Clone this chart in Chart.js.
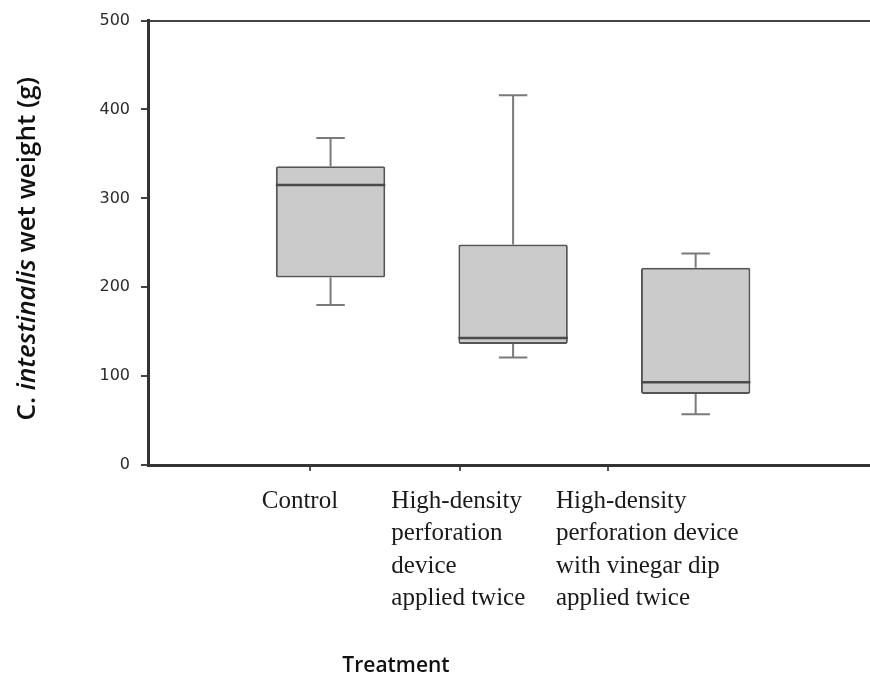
<!DOCTYPE html>
<html lang="en">
<head>
    <meta charset="UTF-8">
    <title>C. intestinalis wet weight by treatment</title>
    <script src="https://cdn.jsdelivr.net/npm/chart.js"></script>
    <style>
        body {
            margin: 0;
            background: #ffffff;
        }
        .chart-container {
            width: 870px;
            height: 676px;
        }
    </style>
</head>
<body>
    <div class="chart-container">
        <canvas id="boxChart"></canvas>
    </div>

    <script>
        // Treatment groups, one box each (x = 1, 2, 3)
        const treatments = [
            ['Control'],
            ['High-density', 'perforation', 'device', 'applied twice'],
            ['High-density', 'perforation device', 'with vinegar dip', 'applied twice']
        ];
        const groupX = [1, 2, 3];

        // Box plot values, wet weight (g)
        const minVals = [180, 121, 57];
        const q1Vals = [211, 136, 80];
        const medianVals = [315, 143, 93];
        const q3Vals = [336, 248, 222];
        const maxVals = [368, 416, 238];

        const yTicks = [0, 100, 200, 300, 400, 500];

        // where the category tick marks and the label blocks sit on the x scale
        const tickMarkAt = [0.89, 1.71, 2.52];
        const labelAt = [0.623, 1.333, 2.235];
        const xMax = 3.955;

        // whiskers, caps, medians and the axis titles
        const boxExtras = {
            id: 'boxExtras',
            beforeDatasetsDraw(chart) {
                const { ctx, scales: { y } } = chart;
                const meta = chart.getDatasetMeta(0);
                ctx.save();
                ctx.strokeStyle = '#7a7a7a';
                ctx.lineWidth = 2;
                meta.data.forEach((bar, i) => {
                    const cx = bar.x;
                    const half = bar.width * 0.13;
                    const yMin = y.getPixelForValue(minVals[i]);
                    const yMax = y.getPixelForValue(maxVals[i]);
                    const yQ1 = y.getPixelForValue(q1Vals[i]);
                    const yQ3 = y.getPixelForValue(q3Vals[i]);
                    ctx.beginPath();
                    ctx.moveTo(cx, yQ1);
                    ctx.lineTo(cx, yMin);
                    ctx.moveTo(cx - half, yMin);
                    ctx.lineTo(cx + half, yMin);
                    ctx.moveTo(cx, yQ3);
                    ctx.lineTo(cx, yMax);
                    ctx.moveTo(cx - half, yMax);
                    ctx.lineTo(cx + half, yMax);
                    ctx.stroke();
                });
                ctx.restore();
            },
            afterDatasetsDraw(chart) {
                const { ctx, scales: { y } } = chart;
                const meta = chart.getDatasetMeta(0);
                ctx.save();
                ctx.strokeStyle = '#4a4a4a';
                ctx.lineWidth = 2.5;
                meta.data.forEach((bar, i) => {
                    const yMed = y.getPixelForValue(medianVals[i]);
                    ctx.beginPath();
                    ctx.moveTo(bar.x - bar.width / 2, yMed);
                    ctx.lineTo(bar.x + bar.width / 2, yMed);
                    ctx.stroke();
                });
                ctx.restore();
            },
            afterDraw(chart) {
                const { ctx, chartArea } = chart;
                ctx.save();
                ctx.fillStyle = '#111';
                ctx.textBaseline = 'middle';

                // y title, rotated, genus name in italics
                const parts = [
                    { text: 'C. ', font: '600 26px "Open Sans"' },
                    { text: 'intestinalis', font: 'italic 600 26px "Open Sans"' },
                    { text: ' wet weight (g)', font: '600 26px "Open Sans"' }
                ];
                let total = 0;
                parts.forEach(p => {
                    ctx.font = p.font;
                    p.w = ctx.measureText(p.text).width;
                    total += p.w;
                });
                ctx.translate(28, (chartArea.top + chartArea.bottom) / 2 + 6);
                ctx.rotate(-Math.PI / 2);
                ctx.textAlign = 'left';
                let pos = -total / 2;
                parts.forEach(p => {
                    ctx.font = p.font;
                    ctx.fillText(p.text, pos, 0);
                    pos += p.w;
                });
                ctx.restore();

                // x title
                ctx.save();
                ctx.fillStyle = '#111';
                ctx.font = '600 21px "Open Sans"';
                ctx.textAlign = 'center';
                ctx.textBaseline = 'alphabetic';
                ctx.fillText('Treatment', chartArea.left + 248, chart.height - 4);
                ctx.restore();
            }
        };

        const ctx = document.getElementById('boxChart').getContext('2d');
        new Chart(ctx, {
            type: 'bar',
            data: {
                datasets: [{
                    data: groupX.map((x, i) => ({ x: x, y: [q1Vals[i], q3Vals[i]] })),
                    backgroundColor: '#cbcbcb',
                    borderColor: '#555555',
                    borderWidth: 2,
                    borderRadius: 2,
                    borderSkipped: false,
                    categoryPercentage: 1,
                    barPercentage: 0.74,
                    xAxisID: 'x',
                    yAxisID: 'y'
                }]
            },
            options: {
                responsive: true,
                maintainAspectRatio: false,
                animation: false,
                layout: {
                    padding: { top: 19, right: 0, bottom: 0, left: 0 }
                },
                plugins: {
                    legend: { display: false },
                    tooltip: { enabled: false }
                },
                scales: {
                    x: {
                        type: 'linear',
                        position: 'bottom',
                        offset: false,
                        min: 0,
                        max: xMax,
                        grid: {
                            display: true,
                            offset: false,
                            drawOnChartArea: false,
                            drawTicks: true,
                            tickLength: 6,
                            color: '#555',
                            lineWidth: 2
                        },
                        border: { display: true, color: '#333', width: 3 },
                        ticks: { display: false },
                        afterBuildTicks: (scale) => {
                            scale.ticks = tickMarkAt.map(v => ({ value: v }));
                        },
                        afterFit: (scale) => {
                            scale.height = 6;
                        }
                    },
                    xl: {
                        type: 'linear',
                        position: 'bottom',
                        offset: false,
                        min: 0,
                        max: xMax,
                        grid: { display: false, offset: false, drawTicks: false },
                        border: { display: false },
                        ticks: {
                            align: 'start',
                            autoSkip: false,
                            maxRotation: 0,
                            minRotation: 0,
                            padding: 14,
                            color: '#1a1a1a',
                            font: { family: '"Liberation Serif"', size: 25, lineHeight: 1.3 },
                            callback: (value, index) => treatments[index]
                        },
                        afterBuildTicks: (scale) => {
                            scale.ticks = labelAt.map(v => ({ value: v }));
                        },
                        afterFit: (scale) => {
                            scale.height = 205;
                        }
                    },
                    xt: {
                        type: 'linear',
                        position: 'top',
                        offset: false,
                        min: 0,
                        max: 1,
                        grid: { display: false },
                        border: { display: true, color: '#444', width: 2 },
                        ticks: { display: false },
                        afterFit: (scale) => {
                            scale.height = 0;
                        }
                    },
                    y: {
                        type: 'linear',
                        min: 0,
                        max: 500,
                        grid: {
                            display: true,
                            drawOnChartArea: false,
                            tickLength: 7,
                            color: '#444',
                            lineWidth: 2
                        },
                        border: { display: true, color: '#333', width: 3 },
                        ticks: {
                            padding: 11,
                            color: '#2b2b2b',
                            font: { family: '"DejaVu Sans"', size: 16 }
                        },
                        afterBuildTicks: (scale) => {
                            scale.ticks = yTicks.map(v => ({ value: v }));
                        },
                        afterFit: (scale) => {
                            scale.width = 148;
                        }
                    }
                }
            },
            plugins: [boxExtras]
        });
    </script>
</body>
</html>
